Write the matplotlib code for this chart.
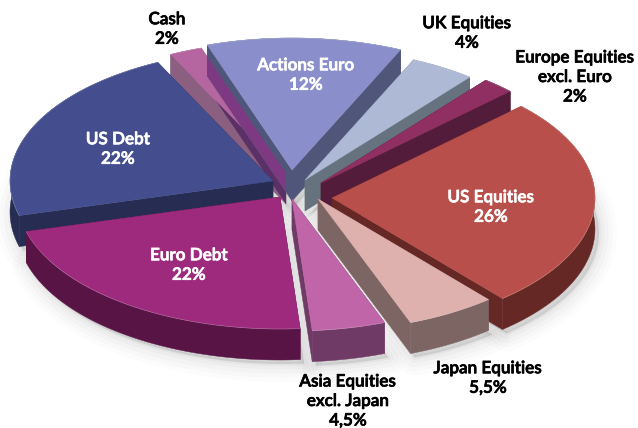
import numpy as np
import matplotlib
matplotlib.use('Agg')
import matplotlib.pyplot as plt
import matplotlib.patheffects as pe
from matplotlib.patches import Polygon

# ---------------
# data, clockwise from US Equities
# ---------------
names = ['US Equities', 'Japan Equities', 'Asia Equities\nexcl. Japan', 'Euro Debt', 'US Debt',
         'Cash', 'Actions Euro', 'UK Equities', 'Europe Equities\nexcl. Euro']
values = [26, 5.5, 4.5, 22, 22, 2, 12, 4, 2]

# apex of each slice on the canvas (the explode)
apex = [(332, 198), (318, 199), (292, 199), (280, 197), (273, 181),
        (286, 173), (292, 170), (305, 180), (321, 183)]
top_colors = ['#b94f4a', '#deb0ae', '#c066a8', '#9e2a7e', '#444e8e',
              '#b5659f', '#8a8fcb', '#adb9d5', '#8f2f62']
wall_colors = ['#652825', '#7c6563', '#703a66', '#571445', '#262c52',
               '#8a5f7f', '#50567a', '#67727f', '#521c3a']
text_pos = [(491, 207), (488, 378), (348, 401), (189, 265), (118, 149),
            (167, 29), (306, 75), (467, 33), (575, 77)]
text_colors = ['white', 'black', 'black', 'white', 'white', 'black', 'white', 'black', 'black']

RX = 263
RY = 132
DEPTH = 31
START = 44
draw_order = [5, 6, 7, 8, 4, 3, 0, 2, 1]

plt.rcParams['font.family'] = ['Lato', 'DejaVu Sans']

fig = plt.figure(figsize=(6.38, 4.28), dpi=100)
ax = fig.add_axes([0, 0, 1, 1])
ax.set_xlim(0, 638)
ax.set_ylim(428, 0)
ax.axis('off')

ends = START - np.cumsum(values) * 3.6
starts = np.concatenate(([START], ends[:-1]))


def outline(i):
    t = np.radians(np.linspace(starts[i], ends[i], 60))
    xs = apex[i][0] + RX * np.cos(t)
    ys = apex[i][1] - RY * np.sin(t)
    return xs, ys


def top_face(i):
    xs, ys = outline(i)
    return np.column_stack((np.r_[apex[i][0], xs], np.r_[apex[i][1], ys]))


def cut_wall(i, corner):
    x0, y0 = apex[i]
    x1, y1 = corner
    return [(x0, y0), (x1, y1), (x1, y1 + DEPTH), (x0, y0 + DEPTH)]


def draw_walls(i, z):
    xs, ys = outline(i)
    for corner in [(xs[0], ys[0]), (xs[-1], ys[-1])]:
        ax.add_patch(Polygon(cut_wall(i, corner), fc=wall_colors[i], ec=wall_colors[i], lw=0.3, zorder=z))
    rim = np.column_stack((np.r_[xs, xs[::-1]], np.r_[ys, ys[::-1] + DEPTH]))
    ax.add_patch(Polygon(rim, fc=wall_colors[i], ec=wall_colors[i], lw=0.3, zorder=z))


# soft shadow under the whole pie
for i in range(len(values)):
    face = top_face(i) + (4, DEPTH + 4)
    for lw, alpha in [(26, 0.012), (20, 0.015), (14, 0.02), (8, 0.025), (3, 0.03)]:
        ax.add_patch(Polygon(face, fc='black', ec='black', lw=lw, alpha=alpha, joinstyle='round', zorder=1))

z = 2
for i in draw_order:
    draw_walls(i, z)
    ax.add_patch(Polygon(top_face(i), fc=top_colors[i], ec=top_colors[i], lw=0.3, zorder=z + 1))
    # thin light bevel along the rim
    xs, ys = outline(i)
    ax.plot(xs, ys, color='white', alpha=0.25, lw=0.5, zorder=z + 1)
    z += 2

# Cash looks see-through: its right wall shows on the Actions Euro wall and on its own left wall
xs, ys = outline(5)
xa, ya = outline(6)
right_wall = cut_wall(5, (xs[-1], ys[-1]))
on_actions = Polygon(right_wall, fc='#7d3a82', ec='none', zorder=5)
ax.add_patch(on_actions)
on_actions.set_clip_path(Polygon(cut_wall(6, (xa[0], ya[0])), transform=ax.transData))
on_left = Polygon(right_wall, fc='#5a3066', ec='none', zorder=3)
ax.add_patch(on_left)
on_left.set_clip_path(Polygon(cut_wall(5, (xs[0], ys[0])), transform=ax.transData))

for i in range(len(values)):
    label = names[i] + '\n' + f'{values[i]:g}%'.replace('.', ',')
    txt = ax.text(text_pos[i][0], text_pos[i][1], label, color=text_colors[i], fontsize=12.3, fontweight='semibold',
                  ha='center', va='center', linespacing=1.27, zorder=40)
    # the reference type is a little heavier than Lato regular
    txt.set_path_effects([pe.withStroke(linewidth=0.5, foreground=text_colors[i])])

fig.savefig('out.png', dpi=100)
